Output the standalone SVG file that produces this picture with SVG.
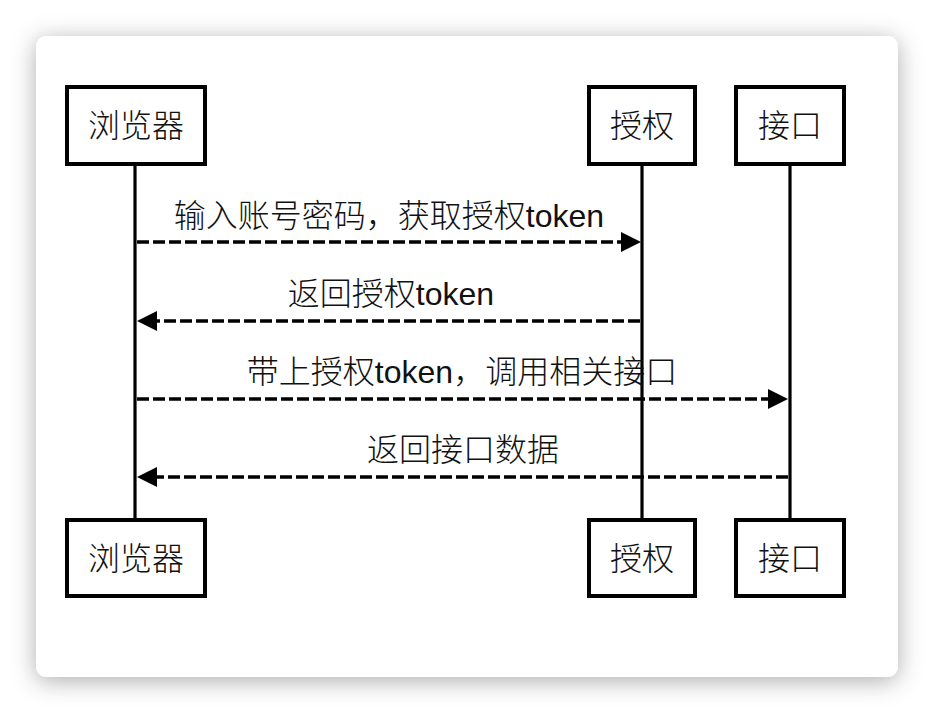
<svg xmlns="http://www.w3.org/2000/svg" width="934" height="714" viewBox="0 0 934 714">
<defs>
<filter id="shadow" x="-10%" y="-10%" width="120%" height="125%">
<feDropShadow dx="0" dy="4" stdDeviation="12" flood-color="#000" flood-opacity="0.32"/>
</filter>
<marker id="ah" markerUnits="userSpaceOnUse" markerWidth="20" markerHeight="20" refX="0" refY="10" orient="auto" viewBox="0 0 20 20">
<path d="M0,0 L20,10 L0,20 Z" fill="#000"/>
</marker>
</defs>
<style>
.box{fill:#fff;stroke:#000;stroke-width:4}
.life{stroke:#000;stroke-width:3.2;fill:none}
.msg{stroke:#000;stroke-width:3.5;fill:none;stroke-dasharray:12 4}
.lbl{font-family:"Liberation Sans","Noto Sans CJK SC",sans-serif;font-size:32px;fill:#111;text-anchor:middle}
.cjk{font-family:"Noto Sans CJK SC",sans-serif;font-weight:300}
</style>
<rect x="0" y="0" width="934" height="714" fill="#fff"/>
<rect x="36" y="36" width="862" height="641" rx="11" ry="11" fill="#fff" filter="url(#shadow)"/>
<g id="lifelines">
<line class="life" x1="135" y1="166" x2="135" y2="518"/>
<line class="life" x1="642" y1="166" x2="642" y2="518"/>
<line class="life" x1="790" y1="166" x2="790" y2="518"/>
</g>
<g id="connectors">
<line class="msg" x1="137" y1="242" x2="621" y2="242" marker-end="url(#ah)"/>
<line class="msg" x1="640" y1="321" x2="157" y2="321" marker-end="url(#ah)"/>
<line class="msg" x1="137" y1="399" x2="768" y2="399" marker-end="url(#ah)"/>
<line class="msg" x1="788" y1="477" x2="157" y2="477" marker-end="url(#ah)"/>
<text class="lbl" x="389" y="227"><tspan class="cjk">输入账号密码，获取授权</tspan>token</text>
<text class="lbl" x="391" y="305"><tspan class="cjk">返回授权</tspan>token</text>
<text class="lbl" x="462" y="383"><tspan class="cjk">带上授权</tspan>token<tspan class="cjk">，调用相关接口</tspan></text>
<text class="lbl" x="463" y="461"><tspan class="cjk">返回接口数据</tspan></text>
</g>
<g id="browser-top">
<rect class="box" x="67" y="87" width="138" height="77"/>
<text class="lbl cjk" x="136" y="137">浏览器</text>
</g>
<g id="auth-top">
<rect class="box" x="589" y="87" width="106" height="77"/>
<text class="lbl cjk" x="642" y="137">授权</text>
</g>
<g id="api-top">
<rect class="box" x="736" y="87" width="108" height="77"/>
<text class="lbl cjk" x="790" y="137">接口</text>
</g>
<g id="browser-bottom">
<rect class="box" x="67" y="520" width="138" height="76"/>
<text class="lbl cjk" x="136" y="570">浏览器</text>
</g>
<g id="auth-bottom">
<rect class="box" x="589" y="520" width="106" height="76"/>
<text class="lbl cjk" x="642" y="570">授权</text>
</g>
<g id="api-bottom">
<rect class="box" x="736" y="520" width="108" height="76"/>
<text class="lbl cjk" x="790" y="570">接口</text>
</g>
</svg>
